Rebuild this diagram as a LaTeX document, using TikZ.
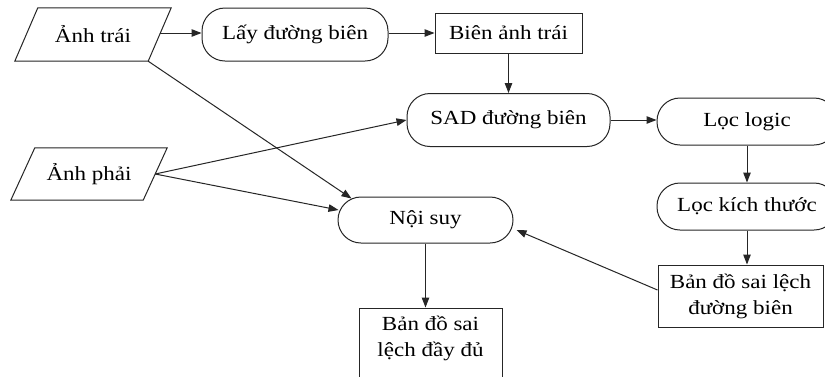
\documentclass[tikz,border=0pt]{standalone}
\usepackage{fontspec}
\setmainfont{Liberation Serif}[FakeStretch=1.15]
\usetikzlibrary{arrows.meta,calc}

\begin{document}
\begin{tikzpicture}[x=1pt,y=-1pt,
  font=\fontsize{20}{26}\selectfont,
  shape line/.style={draw=black!85, line width=1pt, inner sep=0pt},
  io/.style={inner sep=0pt, minimum width=156pt},
  proc/.style={shape line, rectangle, rounded corners=23pt},
  rect/.style={shape line, rectangle},
  link/.style={draw=black!85, line width=1pt,
    -{Triangle[length=10pt,width=7.5pt]}}]

% page area; shapes running past the edges are cut off
\path[use as bounding box, fill=white] (0,0) rectangle (825,376);
\clip (0,0) rectangle (825,376);

% inputs: the node holds the text, the slanted outline is drawn round it
\node[io, minimum height=53pt] (at) at (93,34.5) {Ảnh trái};
\draw[shape line] ($(at.north west)+(23,0)$) -- (at.north east)
  -- ($(at.south east)+(-23,0)$) -- (at.south west) -- cycle;
\node[io, minimum height=52pt] (ap) at (89,174) {Ảnh phải};
\draw[shape line] ($(ap.north west)+(24,0)$) -- (ap.north east)
  -- ($(ap.south east)+(-24,0)$) -- (ap.south west) -- cycle;

% edge branch
\node[proc, minimum width=186pt, minimum height=53pt] (lay) at (295,34.5) {Lấy đường biên};
\node[rect, minimum width=147pt, minimum height=40pt] (bien) at (508.5,33) {Biên ảnh trái};
\node[proc, minimum width=203pt, minimum height=53pt] (sad) at (508.5,120) {SAD đường biên};
\node[proc, minimum width=180pt, minimum height=47pt] (logic) at (747,121.5) {Lọc logic};
\node[proc, minimum width=180pt, minimum height=47pt] (kich) at (747,206.5) {Lọc kích thước};
\node[rect, minimum width=165pt, minimum height=62pt, align=center] (bdb) at (740.5,296) {Bản đồ sai lệch\\đường biên};

% interpolation and result
\node[proc, minimum width=175pt, minimum height=46pt] (noisuy) at (425.5,220) {Nội suy};
\node[rect, minimum width=143pt, minimum height=90pt, align=center] (bdd) at (430.5,353) {Bản đồ sai\\lệch đầy đủ\\\strut};

% connectors
\draw[link] ($(at.east)+(-11.5,-1.5)$) -- (lay.west |- 0,33);
\draw[link] (lay.east |- 0,33) -- (bien.west);
\draw[link] (bien.south) -- (sad.north);
\draw[link] (sad.east) -- (sad.east -| logic.west);
\draw[link] (logic.south) -- (kich.north);
\draw[link] (kich.south) -- (kich.south |- bdb.north);
\draw[link] ($(bdb.west)+(0,-6)$) -- ($(noisuy.east)+(3,10)$);
\draw[link] (noisuy.south) -- (noisuy.south |- bdd.north);
\draw[link] ($(ap.east)+(-12,0)$) -- (sad.west);
\draw[link] ($(ap.east)+(-12,0)$) -- ($(noisuy.west)+(1,-10)$);
\draw[link] ($(at.south east)+(-23,0)$) -- ($(noisuy.north west)+(14,2)$);
\end{tikzpicture}
\end{document}
